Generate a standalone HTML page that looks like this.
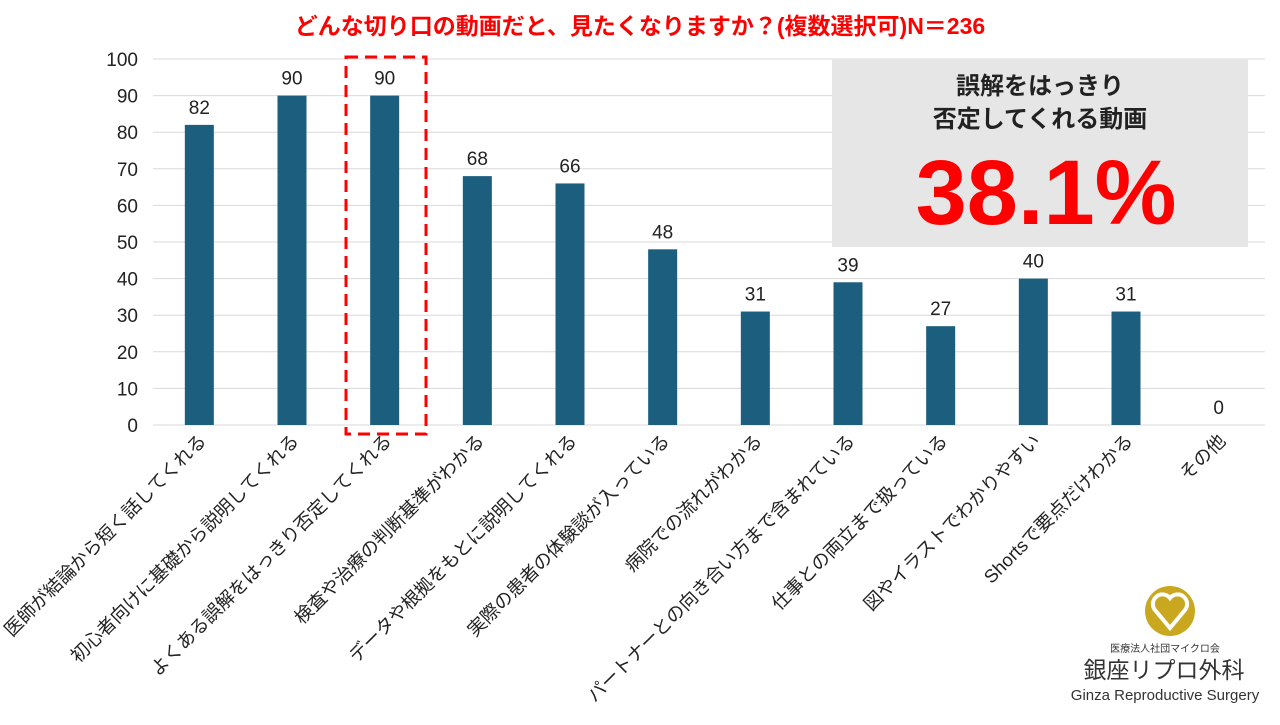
<!DOCTYPE html>
<html><head><meta charset="utf-8"><style>
html,body{margin:0;padding:0;background:#fff;}
body{width:1280px;height:720px;overflow:hidden;font-family:"Liberation Sans","Noto Sans CJK JP",sans-serif;}
</style></head><body>
<svg id="chart" width="1280" height="720" viewBox="0 0 1280 720" xmlns="http://www.w3.org/2000/svg" font-family="Liberation Sans, Noto Sans CJK JP, sans-serif">
<text x="640" y="34" text-anchor="middle" font-size="23" fill="#ff0000" font-weight="bold">どんな切り口の動画だと、見たくなりますか？(複数選択可)N＝236</text>
<g id="grid"></g><g id="bars"></g><g id="labels"></g>
<rect x="346" y="57" width="80" height="377" fill="none" stroke="#ff0000" stroke-width="3" stroke-dasharray="12,7"/>
<g>
<rect x="832" y="59" width="416" height="188" fill="#e6e6e6"/>
<text x="1040" y="94" text-anchor="middle" font-size="24" font-weight="bold" fill="#222">誤解をはっきり</text>
<text x="1040" y="127" text-anchor="middle" font-size="24" font-weight="bold" fill="#222">否定してくれる動画</text>
<text x="1046" y="224" text-anchor="middle" font-size="92" font-weight="bold" fill="#ff0000">38.1%</text>
</g>
<g>
<circle cx="1170" cy="611" r="25" fill="#c9a820"/>
<path d="M1170 628 L1155 610 A9 9 0 0 1 1170 598 A9 9 0 0 1 1185 610 Z" fill="none" stroke="#fff" stroke-width="4"/>
<text x="1165" y="652" text-anchor="middle" font-size="10" fill="#333">医療法人社団マイクロ会</text>
<text x="1164" y="678" text-anchor="middle" font-size="23" fill="#333">銀座リプロ外科</text>
<text x="1165" y="700" text-anchor="middle" font-size="15" fill="#333">Ginza Reproductive Surgery</text>
</g>
</svg>
<script>
const categories=["医師が結論から短く話してくれる","初心者向けに基礎から説明してくれる","よくある誤解をはっきり否定してくれる","検査や治療の判断基準がわかる","データや根拠をもとに説明してくれる","実際の患者の体験談が入っている","病院での流れがわかる","パートナーとの向き合い方まで含まれている","仕事との両立まで扱っている","図やイラストでわかりやすい","Shortsで要点だけわかる","その他"];
const values=[82,90,90,68,66,48,31,39,27,40,31,0];
const yTicks=[0,10,20,30,40,50,60,70,80,90,100];
const NS="http://www.w3.org/2000/svg";
const x0=153,x1=1265,yTop=59,yBot=425;
const y=v=>yBot-(v/100)*(yBot-yTop);
const step=(x1-x0)/categories.length;
const cx=i=>x0+step*(i+0.5);
function mk(tag,attrs,parent,txt){const e=document.createElementNS(NS,tag);for(const k in attrs)e.setAttribute(k,attrs[k]);if(txt!==undefined)e.textContent=txt;parent.appendChild(e);return e;}
const grid=document.getElementById('grid'),bars=document.getElementById('bars'),labels=document.getElementById('labels');
yTicks.forEach(t=>{
  const l=mk('line',{x1:x0,x2:x1,y1:y(t),y2:y(t),stroke:'#d9d9d9','stroke-width':1},grid);
  
  
  const tx=mk('text',{x:138,y:y(t)+7,'text-anchor':'end','font-size':19,fill:'#222'},grid,t);
  
  
});
values.forEach((v,i)=>{
  const r=mk('rect',{x:cx(i)-14.5,y:y(v),width:29,height:yBot-y(v),fill:'#1b5e7e'},bars);
  
  
  const vt=mk('text',{x:cx(i),y:y(v)-11,'text-anchor':'middle','font-size':19,fill:'#222'},bars,v);
  
  
  const lx=cx(i)+8,ly=442;
  const ct=mk('text',{x:lx,y:ly,'text-anchor':'end','font-size':18.5,fill:'#222',transform:`rotate(-45 ${lx} ${ly})`},labels,categories[i]);
  
  
});
</script>
</body></html>
